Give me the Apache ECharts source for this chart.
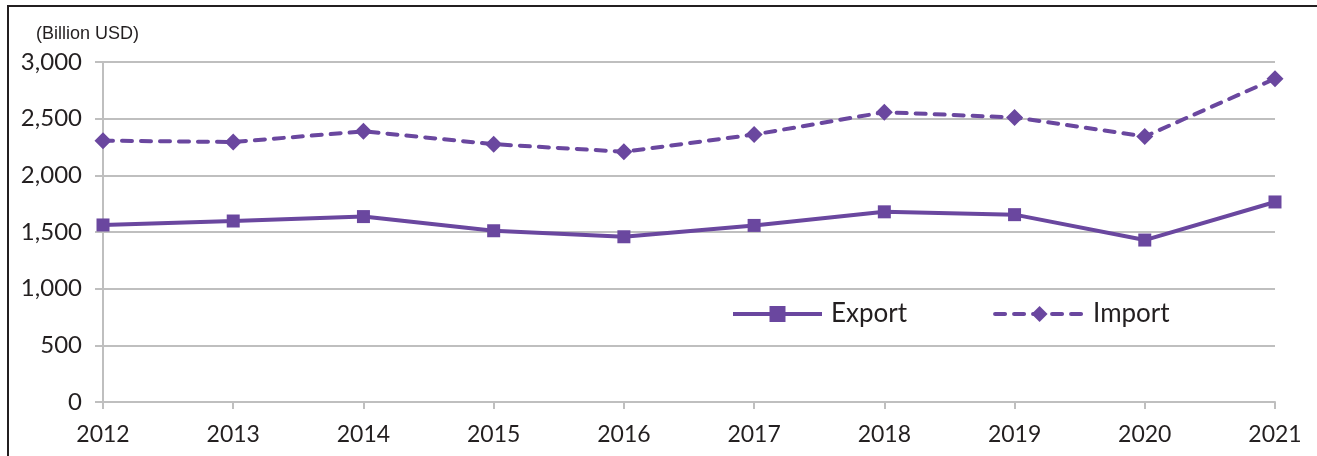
<!DOCTYPE html>
<html>
<head>
<meta charset="utf-8">
<script src="https://cdn.jsdelivr.net/npm/echarts@6/dist/echarts.min.js"></script>
<style>
  html, body { margin: 0; padding: 0; background: #fff; overflow: hidden; width: 1317px; height: 456px; }
  #frame { position: absolute; left: 7px; top: 5px; width: 1310px; height: 451px;
           border-top: 2px solid #231f20; border-left: 2px solid #231f20; box-sizing: border-box; }
  #chart { position: absolute; left: 0; top: 0; width: 1317px; height: 456px; }
</style>
</head>
<body>
<div id="frame"></div>
<div id="chart"></div>
<script>
// categories (years)
var years = ['2012', '2013', '2014', '2015', '2016', '2017', '2018', '2019', '2020', '2021']
// values in billion USD
var exportValues = [1562, 1597, 1636, 1511, 1458, 1558, 1678, 1653, 1429, 1765]
var importValues = [2306, 2294, 2388, 2275, 2208, 2360, 2557, 2511, 2343, 2853]
var purple = '#6a479f'
var axisGrey = '#bfbfbf'
var textColor = '#231f20'

var chart = echarts.init(document.getElementById('chart'))

var option = {
  animation: false,
  backgroundColor: 'transparent',
  textStyle: { fontFamily: 'Lato' },
  title: {
    text: '(Billion USD)',
    left: 31,
    top: 20,
    textStyle: { fontFamily: 'Liberation Sans', fontSize: 18, fontWeight: 'normal', color: textColor }
  },
  legend: {
    left: 726,
    top: 296,
    itemWidth: 89,
    itemHeight: 20,
    itemGap: 86,
    textStyle: { fontSize: 26, color: textColor, padding: [0, 0, 0, 4] },
    data: [
      { name: 'Export', lineStyle: { width: 4 } },
      { name: 'Import', lineStyle: { width: 4 } }
    ]
  },
  grid: {
    left: 103,
    right: 42,
    top: 62,
    bottom: 54,
    containLabel: false
  },
  xAxis: {
    type: 'category',
    data: years,
    boundaryGap: false,
    axisLine: { lineStyle: { color: axisGrey, width: 2 } },
    axisTick: { show: true, length: 7, alignWithLabel: true, lineStyle: { color: axisGrey, width: 2 } },
    axisLabel: { fontSize: 23, color: textColor, margin: 21 },
    splitLine: { show: false }
  },
  yAxis: {
    type: 'value',
    min: 0,
    max: 3000,
    interval: 500,
    axisLine: { show: true, lineStyle: { color: axisGrey, width: 2 } },
    axisTick: { show: true, length: 8, lineStyle: { color: axisGrey, width: 2 } },
    axisLabel: {
      fontSize: 24,
      color: textColor,
      margin: 21,
      formatter: function (v) { return v.toLocaleString('en-US') }
    },
    splitLine: { lineStyle: { color: axisGrey, width: 2 } }
  },
  series: [
    {
      name: 'Export',
      type: 'line',
      data: exportValues,
      symbol: 'rect',
      symbolSize: 13,
      color: purple,
      lineStyle: { color: purple, width: 4 },
      itemStyle: { color: purple }
    },
    {
      name: 'Import',
      type: 'line',
      data: importValues,
      symbol: 'diamond',
      symbolSize: 17,
      color: purple,
      lineStyle: { color: purple, width: 4, type: [10, 9], cap: 'round' },
      itemStyle: { color: purple }
    }
  ]
}

chart.setOption(option)
</script>
</body>
</html>
